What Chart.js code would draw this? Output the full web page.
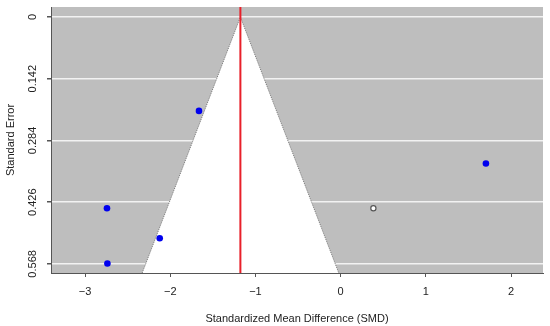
<!DOCTYPE html>
<html>
<head>
<meta charset="utf-8">
<script src="https://cdn.jsdelivr.net/npm/chart.js@4/dist/chart.umd.min.js"></script>
<style>
  html, body { margin: 0; padding: 0; background: #fff; }
  #wrap { width: 550px; height: 326px; }
</style>
</head>
<body>
<div id="wrap"><canvas id="chart"></canvas></div>
<script>
// observed studies (SMD, standard error)
const studySmd = [-1.663, -2.743, -2.124, -2.738, 1.705];
const studySe = [0.216, 0.440, 0.509, 0.567, 0.337];

// trim-and-fill imputed study
const filledSmd = [0.384];
const filledSe = [0.440];

// pooled estimate and funnel outline (pseudo 95% limits)
const pooledSmd = -1.177;
const funnelX = [-2.33, -1.177, -0.022];
const funnelY = [0.589, 0, 0.589];

const xTicks = [-3, -2, -1, 0, 1, 2];
const yTicks = [0, 0.142, 0.284, 0.426, 0.568];

const X_MIN = -3.40, X_MAX = 2.375;
const Y_MIN = -0.023, Y_MAX = 0.589;

const font = { family: "'Liberation Sans', Arial, sans-serif", size: 11 };

const grayPanel = {
    id: 'grayPanel',
    beforeDraw(chart) {
        const a = chart.chartArea;
        const ctx = chart.ctx;
        ctx.save();
        ctx.fillStyle = '#bebebe';
        ctx.fillRect(a.left, a.top, a.right - a.left, a.bottom - a.top);
        ctx.restore();
    }
};

new Chart(document.getElementById('chart'), {
    type: 'scatter',
    data: {
        datasets: [
            {
                label: 'studies',
                data: studySmd.map((x, i) => ({ x: x, y: studySe[i] })),
                pointRadius: 3.3,
                pointBackgroundColor: '#0000ee',
                pointBorderColor: '#0000ee',
                pointBorderWidth: 0,
                order: 0
            },
            {
                label: 'filled',
                data: filledSmd.map((x, i) => ({ x: x, y: filledSe[i] })),
                pointRadius: 2.6,
                pointBackgroundColor: '#ffffff',
                pointBorderColor: '#555555',
                pointBorderWidth: 1.2,
                order: 1
            },
            {
                label: 'pooled',
                type: 'line',
                data: [{ x: pooledSmd, y: Y_MIN }, { x: pooledSmd, y: Y_MAX }],
                borderColor: '#e8202a',
                borderWidth: 2,
                pointRadius: 0,
                order: 2
            },
            {
                label: 'funnel',
                type: 'line',
                data: funnelX.map((x, i) => ({ x: x, y: funnelY[i] })),
                borderColor: '#777777',
                borderWidth: 1,
                borderDash: [1, 1],
                backgroundColor: '#ffffff',
                fill: 'shape',
                pointRadius: 0,
                tension: 0,
                order: 3
            }
        ]
    },
    options: {
        responsive: true,
        maintainAspectRatio: false,
        animation: false,
        layout: { padding: { top: 7, right: 7, left: 0, bottom: 0 } },
        plugins: {
            legend: { display: false },
            tooltip: { enabled: false }
        },
        scales: {
            x: {
                type: 'linear',
                min: X_MIN,
                max: X_MAX,
                afterBuildTicks: (s) => { s.ticks = xTicks.map(v => ({ value: v })); },
                afterFit: (s) => { s.height = 53; },
                ticks: {
                    color: '#222',
                    font: font,
                    padding: 8,
                    maxRotation: 0,
                    callback: (v) => String(v).replace('-', '\u2212')
                },
                grid: {
                    drawOnChartArea: false,
                    drawTicks: true,
                    tickLength: 4,
                    tickColor: '#555'
                },
                border: { display: true, color: '#555', width: 1 },
                title: {
                    display: true,
                    text: 'Standardized Mean Difference (SMD)',
                    color: '#222',
                    font: font,
                    padding: { top: 10, bottom: 0 }
                }
            },
            y: {
                type: 'linear',
                reverse: true,
                min: Y_MIN,
                max: Y_MAX,
                afterBuildTicks: (s) => { s.ticks = yTicks.map(v => ({ value: v })); },
                afterFit: (s) => { s.width = 51; },
                ticks: {
                    color: '#222',
                    font: font,
                    padding: 0,
                    crossAlign: 'center',
                    minRotation: 90,
                    maxRotation: 90,
                    callback: (v) => String(v)
                },
                grid: {
                    color: '#f2f2f2',
                    lineWidth: 1.5,
                    drawTicks: true,
                    tickLength: 4,
                    tickColor: '#555'
                },
                border: { display: true, color: '#555', width: 1 },
                title: {
                    display: true,
                    text: 'Standard Error',
                    color: '#222',
                    font: font,
                    padding: { top: 4, bottom: 6 }
                }
            }
        }
    },
    plugins: [grayPanel]
});
</script>
</body>
</html>
